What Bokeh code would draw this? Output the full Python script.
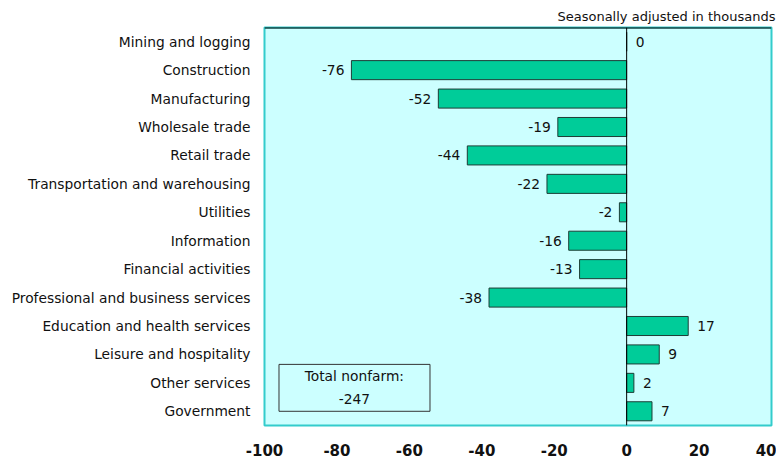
from bokeh.plotting import figure
from bokeh.models import (ColumnDataSource, Range1d, FixedTicker, Span, BoxAnnotation, Label)
from bokeh.core.properties import value
from bokeh.embed import file_html
from bokeh.resources import INLINE

categories = ["Mining and logging", "Construction", "Manufacturing", "Wholesale trade",
              "Retail trade", "Transportation and warehousing", "Utilities", "Information",
              "Financial activities", "Professional and business services",
              "Education and health services", "Leisure and hospitality",
              "Other services", "Government"]
changes = [0, -76, -52, -19, -44, -22, -2, -16, -13, -38, 17, 9, 2, 7]
x_ticks = [-100, -80, -60, -40, -20, 0, 20, 40]
x_tick_labels = ["-100", "-80", "-60", "-40", "-20", "0", "20", "40"]
total_label = "Total nonfarm:"
total_value = "-247"
subtitle = "Seasonally adjusted in thousands"

FONT = "DejaVu Sans"
TXT = "#111111"
idx = list(range(len(categories)))

p = figure(width=776, height=458, output_backend="svg", toolbar_location=None,
           x_range=Range1d(-100, 40), y_range=Range1d(len(categories) - 0.5, -0.5),
           min_border_left=264, min_border_right=5, min_border_top=27, min_border_bottom=29)

p.background_fill_color = "#CCFFFF"
p.border_fill_color = "white"
p.outline_line_color = "#33CCCC"
p.outline_line_width = 2
p.grid.visible = False

src = ColumnDataSource(dict(y=idx, x=changes, cat=categories))
p.hbar(y="y", left=0, right="x", height=0.67, source=src,
       fill_color="#00CC99", line_color="#1E3D36", line_width=1)

# zero line and top black border
p.add_layout(Span(location=0, dimension="height", line_color="black", line_width=1))
p.add_layout(Span(location=-0.5, dimension="width", line_color="black", line_width=2))

# value labels
neg = [i for i, v in enumerate(changes) if v < 0]
pos = [i for i, v in enumerate(changes) if v >= 0]
neg_src = ColumnDataSource(dict(x=[changes[i] for i in neg], y=[idx[i] for i in neg],
                                t=[str(changes[i]) for i in neg]))
pos_src = ColumnDataSource(dict(x=[changes[i] for i in pos], y=[idx[i] for i in pos],
                                t=[str(changes[i]) for i in pos]))
p.text(x="x", y="y", text="t", source=neg_src, text_align="right", text_baseline="middle",
       x_offset=-7, text_font=value(FONT), text_font_size="13.8px", text_color=TXT)
p.text(x="x", y="y", text="t", source=pos_src, text_align="left", text_baseline="middle",
       x_offset=9, text_font=value(FONT), text_font_size="13.8px", text_color=TXT)

# total nonfarm box
p.add_layout(BoxAnnotation(left=-96.0, right=-54.3, top=11.35, bottom=13.0,
                           fill_alpha=0, line_color="#333333", line_alpha=1, line_width=1))
p.add_layout(Label(x=-75.2, y=11.75, text=total_label, text_align="center",
                   text_baseline="middle", text_font=FONT, text_font_size="13.8px",
                   text_color=TXT))
p.add_layout(Label(x=-75.2, y=12.57, text=total_value, text_align="center",
                   text_baseline="middle", text_font=FONT, text_font_size="13.8px",
                   text_color=TXT))

# axes
p.yaxis.ticker = FixedTicker(ticks=idx)
p.yaxis.major_label_overrides = {i: c for i, c in zip(idx, categories)}
p.yaxis.axis_line_color = None
p.yaxis.major_tick_line_color = None
p.yaxis.minor_tick_line_color = None
p.yaxis.major_label_standoff = 8
p.yaxis.major_label_text_font = FONT
p.yaxis.major_label_text_font_size = "13.8px"
p.yaxis.major_label_text_color = TXT

p.xaxis.ticker = FixedTicker(ticks=x_ticks)
p.xaxis.major_label_overrides = {t: l for t, l in zip(x_ticks, x_tick_labels)}
p.xaxis.axis_line_color = None
p.xaxis.major_tick_line_color = None
p.xaxis.minor_tick_line_color = None
p.xaxis.major_label_standoff = 12
p.xaxis.major_label_text_font = FONT
p.xaxis.major_label_text_font_size = "15px"
p.xaxis.major_label_text_font_style = "bold"
p.xaxis.major_label_text_color = TXT

p.title.text = subtitle
p.title.align = "right"
p.title.offset = -4
p.title.text_font = FONT
p.title.text_font_size = "13px"
p.title.text_font_style = "normal"
p.title.text_color = TXT
p.title.standoff = 8

open("out.html", "w").write(file_html(p, INLINE))
